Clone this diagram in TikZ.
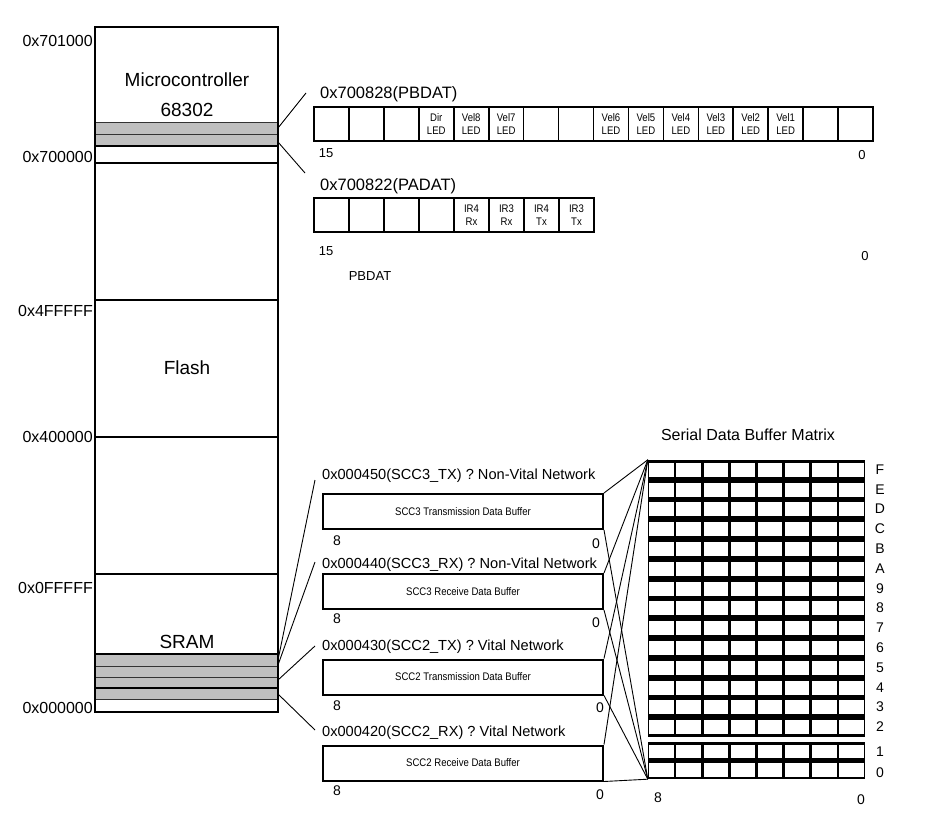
\documentclass[tikz,border=0pt]{standalone}
\usepackage{fontspec}
\setmainfont{Liberation Sans}
\newfontfamily\condfont[FakeStretch=0.87]{Liberation Sans}
\begin{document}
\begin{tikzpicture}[x=1pt,y=-1pt]
\tikzset{
  addr/.style={anchor=base east,inner sep=0,font=\fontsize{16}{18}\selectfont},
  bigtxt/.style={anchor=base,inner sep=0,font=\fontsize{19}{22}\selectfont},
  reglbl/.style={anchor=base west,inner sep=0,font=\fontsize{16.5}{19}\selectfont},
  bitnum/.style={anchor=base,inner sep=0,font=\fontsize{13}{15}\selectfont},
  buflbl/.style={anchor=base west,inner sep=0,font=\fontsize{14.6}{17}\selectfont},
  bufnum/.style={anchor=base,inner sep=0,font=\fontsize{14}{16}\selectfont},
  rowlbl/.style={anchor=base,inner sep=0,font=\fontsize{14}{16}\selectfont},
  regcell/.style={draw,line width=1.6pt,minimum width=34.9pt,minimum height=34pt,inner sep=0},
  celltxt/.style={align=center,inner sep=0,font=\condfont\fontsize{11}{13}\selectfont},
  bufbox/.style={draw,line width=2pt,minimum width=280pt,minimum height=35pt,inner sep=0,font=\condfont\fontsize{11}{13}\selectfont},
  band/.style={fill=gray!50,draw=black!80,line width=1pt},
  memline/.style={line width=2pt},
  wire/.style={line width=0.9pt}
}
\useasboundingbox (0,0) rectangle (927,813);

% ---------- memory map ----------
\draw[band] (95,123) rectangle (278,135);
\draw[band] (95,135) rectangle (278,146);
\draw[band] (95,654) rectangle (278,666);
\draw[band] (95,666) rectangle (278,677);
\draw[band] (95,677) rectangle (278,688);
\draw[band] (95,688) rectangle (278,699);
\foreach \yy in {146,163,300,437,574,654,688} \draw[memline] (95,\yy) -- (278,\yy);
\draw[memline] (95,27) rectangle (278,712);

\node[bigtxt] (mctxt) at (187,86.8) {Microcontroller};
\node[bigtxt] (mcnum) at (187,116.3) {68302};
\node[bigtxt] (flash) at (187,374.8) {Flash};
\node[bigtxt] (sram) at (187,648.8) {SRAM};

\node[addr] (a1) at (93,46.7) {0x701000};
\node[addr] (a2) at (93,162.4) {0x700000};
\node[addr] (a3) at (93,316.7) {0x4FFFFF};
\node[addr] (a4) at (93,442.7) {0x400000};
\node[addr] (a5) at (93,593) {0x0FFFFF};
\node[addr] (a6) at (93,713) {0x000000};

% ---------- registers ----------
\node[reglbl] (pblbl) at (320,98.4) {0x700828(PBDAT)};
\foreach \i in {0,...,15} \node[regcell] (pb\i) at ({314+(\i+0.5)*34.94},124) {};
\node[celltxt] at (pb3) {Dir\\LED};
\node[celltxt] at (pb4) {Vel8\\LED};
\node[celltxt] at (pb5) {Vel7\\LED};
\node[celltxt] at (pb8) {Vel6\\LED};
\node[celltxt] at (pb9) {Vel5\\LED};
\node[celltxt] at (pb10) {Vel4\\LED};
\node[celltxt] at (pb11) {Vel3\\LED};
\node[celltxt] at (pb12) {Vel2\\LED};
\node[celltxt] at (pb13) {Vel1\\LED};
\node[bitnum] (pb15n) at (326,157.7) {15};
\node[bitnum] (pb0n) at (862,159.7) {0};

\node[reglbl] (palbl) at (320,190.4) {0x700822(PADAT)};
\foreach \i in {0,...,7} \node[regcell] (pa\i) at ({314+(\i+0.5)*35},215) {};
\node[celltxt] at (pa4) {IR4\\Rx};
\node[celltxt] at (pa5) {IR3\\Rx};
\node[celltxt] at (pa6) {IR4\\Tx};
\node[celltxt] at (pa7) {IR3\\Tx};
\node[bitnum] (pa15n) at (326,255.7) {15};
\node[bitnum] (pa0n) at (865,260.7) {0};
\node[bitnum] (pbdat) at (370,280.7) {PBDAT};

\coordinate (mcb1) at (278,128);
\coordinate (mcb2) at (278,142);
\coordinate (pbend) at (306,93);
\coordinate (paend) at (305,173);
\draw[wire] (mcb1) -- (pbend);
\draw[wire] (mcb2) -- (paend);

% ---------- buffers ----------
\node[buflbl] (l1) at (322,479.7) {0x000450(SCC3\_TX) ? Non-Vital Network};
\node[buflbl] (l2) at (322,568.7) {0x000440(SCC3\_RX) ? Non-Vital Network};
\node[buflbl] (l3) at (322,650.7) {0x000430(SCC2\_TX) ? Vital Network};
\node[buflbl] (l4) at (322,736.2) {0x000420(SCC2\_RX) ? Vital Network};

\node[bufbox] (b1) at (463,511.5) {SCC3 Transmission Data Buffer};
\node[bufbox] (b2) at (463,591.5) {SCC3 Receive Data Buffer};
\node[bufbox] (b3) at (463,677) {SCC2 Transmission Data Buffer};
\node[bufbox] (b4) at (463,763) {SCC2 Receive Data Buffer};

\node[bufnum] at (337,545) {8};   \node[bufnum] at (596,548) {0};
\node[bufnum] at (337,623) {8};   \node[bufnum] at (596,627) {0};
\node[bufnum] at (337,710) {8};   \node[bufnum] at (600,712.5) {0};
\node[bufnum] at (337,795) {8};   \node[bufnum] at (600,799) {0};

\coordinate (s1) at (278,660);
\coordinate (s2) at (278,665);
\coordinate (s3) at (278,680);
\coordinate (s4) at (278,694);
\coordinate (e1) at (315,480);
\coordinate (e2) at (315,562);
\coordinate (e3) at (315,646);
\coordinate (e4) at (315,730);
\draw[wire] (s1) -- (e1);
\draw[wire] (s2) -- (e2);
\draw[wire] (s3) -- (e3);
\draw[wire] (s4) -- (e4);

% ---------- matrix ----------
\node[inner sep=0,minimum width=217pt,minimum height=319pt] (mat) at (756.5,619.5) {};
\node[anchor=base,inner sep=0,font=\fontsize{16}{18}\selectfont] (mattitle) at (748,440.2) {Serial Data Buffer Matrix};
\fill (648,460) rectangle (865,737);
\foreach \r in {0,...,13} \foreach \c in {0,...,7}
  \fill[white] ({648+\c*27.125+1.3},{460+\r*19.786+2.9}) rectangle ({648+(\c+1)*27.125-1.3},{460+(\r+1)*19.786-2.9});
\fill (648,742) rectangle (865,779);
\foreach \r in {0,1} \foreach \c in {0,...,7}
  \fill[white] ({648+\c*27.125+1.3},{742+\r*18.5+2.5}) rectangle ({648+(\c+1)*27.125-1.3},{742+(\r+1)*18.5-2.5});
\foreach \t [count=\r from 0] in {F,E,D,C,B,A,9,8,7,6,5,4,3,2}
  \node[rowlbl] at (880,{460+(\r+0.5)*19.786+4.5}) {\t};
\node[rowlbl] at (880,756) {1};
\node[rowlbl] at (880,777.5) {0};
\node[bufnum] at (658,802) {8};
\node[bufnum] at (861,804) {0};

\foreach \b in {b1,b2,b3,b4} {
  \draw[wire] (\b.north east) -- (mat.north west);
  \draw[wire] (\b.south east) -- (mat.south west);
}
\end{tikzpicture}
\end{document}
